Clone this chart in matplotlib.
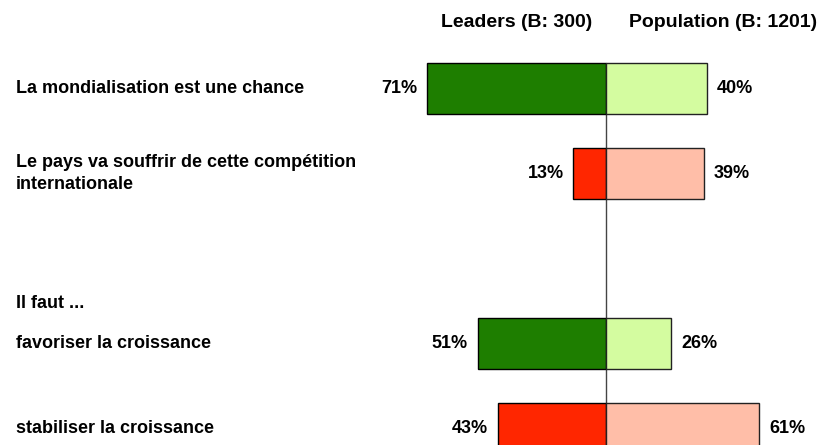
import matplotlib
matplotlib.use("Agg")
import matplotlib.pyplot as plt

categories = ["La mondialisation est une chance",
              "Le pays va souffrir de cette compétition\ninternationale",
              "favoriser la croissance",
              "stabiliser la croissance"]
rows = [0, 1, 3, 4]
leaders = [71, 13, 51, 43]
population = [40, 39, 26, 61]
leader_colors = ["#1e7e00", "#ff2600", "#1e7e00", "#ff2600"]
pop_colors = ["#d4fca0", "#ffbea8", "#d4fca0", "#ffbea8"]
headers = ["Leaders (B: 300)", "Population (B: 1201)"]
group_label = "Il faut ..."

plt.rcParams['font.family'] = ["Liberation Sans", "DejaVu Sans"]
fs = 13

fig = plt.figure(figsize=(8.24, 4.45), dpi=100)
ax = fig.add_axes([0, 0, 1, 1])
# 2.515 px per percent, 85 px per row
ax.set_xlim(-606 / 2.515, 218 / 2.515)
ax.set_ylim(356.5 / 85, -88.5 / 85)
ax.axis("off")

ax.vlines(0, -0.3, 6, color="#444444", lw=1, zorder=1)

h = 0.6
ax.barh(rows, [-v for v in leaders], height=h, color=leader_colors,
        edgecolor="black", lw=1, zorder=2)
ax.barh(rows, population, height=h, color=pop_colors,
        edgecolor="#222222", lw=1, zorder=2)

for r, l, p, c in zip(rows, leaders, population, categories):
    ax.annotate(f"{l}%", (-l, r), xytext=(-7, 0), textcoords="offset points",
                ha="right", va="center", fontsize=fs, fontweight="bold")
    ax.annotate(f"{p}%", (p, r), xytext=(7, 0), textcoords="offset points",
                ha="left", va="center", fontsize=fs, fontweight="bold")
    ax.text(16 / 824, r, c, transform=ax.get_yaxis_transform(),
            ha="left", va="center", fontsize=fs, fontweight="bold",
            linespacing=1.45)

ax.text(16 / 824, 2.53, group_label, transform=ax.get_yaxis_transform(),
        ha="left", va="center", fontsize=fs, fontweight="bold")

ax.text((517 - 606) / 2.515, -0.78, headers[0], ha="center", va="center",
        fontsize=14, fontweight="bold")
ax.text((723 - 606) / 2.515, -0.78, headers[1], ha="center", va="center",
        fontsize=14, fontweight="bold")

fig.savefig("out.png", dpi=100)
